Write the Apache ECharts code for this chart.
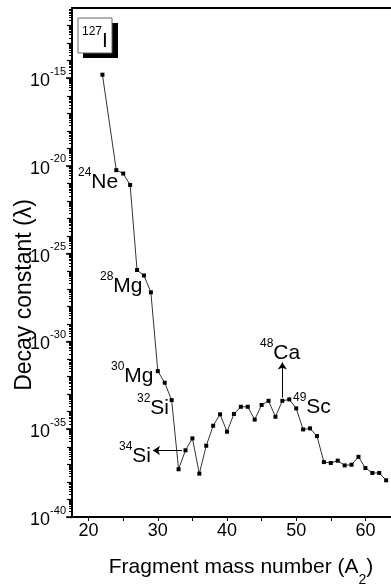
<!DOCTYPE html>
<html>
<head>
<meta charset="utf-8">
<script src="https://cdn.jsdelivr.net/npm/echarts@6/dist/echarts.min.js"></script>
<style>
  html, body { margin: 0; padding: 0; background: #fff; }
  #chart { width: 391px; height: 584px; }
</style>
</head>
<body>
<div id="chart"></div>
<script>
// fragment mass number A2 and log10 of decay constant
var massNumber = [22, 24, 25, 26, 27, 28, 29, 30, 31, 32, 33, 34, 35, 36, 37, 38, 39, 40, 41, 42, 43,
  44, 45, 46, 47, 48, 49, 50, 51, 52, 53, 54, 55, 56, 57, 58, 59, 60, 61, 62, 63];
var log10Lambda = [-14.8, -20.24, -20.43, -21.08, -25.93, -26.24, -27.2, -31.69, -32.35, -33.34, -37.28,
  -36.2, -35.52, -37.53, -35.94, -34.8, -34.15, -35.14, -34.13, -33.72, -33.72,
  -34.45, -33.62, -33.38, -34.29, -33.38, -33.3, -33.81, -35.01, -34.95, -35.39,
  -36.87, -36.92, -36.79, -37.06, -37.02, -36.57, -37.21, -37.49, -37.49, -37.91];

var xTicks = [20, 25, 30, 35, 40, 45, 50, 55, 60, 65];
var xLabels = [20, 30, 40, 50, 60];
var yLabels = [-40, -35, -30, -25, -20, -15];

var FONT = 'Liberation Sans';

var decades = [];
var subTicks = [];
for (var d = -40; d <= -12; d++) {
  decades.push(d);
  for (var k = 2; k <= 9; k++) subTicks.push(d + Math.log10(k));
}

var pts = massNumber.map(function (a, i) { return [a, log10Lambda[i]]; });

var supRich = {
  s: { fontFamily: FONT, fontSize: 12, lineHeight: 12, verticalAlign: 'top', fill: '#000' },
  m: { fontFamily: FONT, fontSize: 21, lineHeight: 26, verticalAlign: 'bottom', fill: '#000' }
};
function isoLabel(mass, sym, x, y) {
  return {
    type: 'text', x: x, y: y, silent: true,
    style: { text: '{s|' + mass + '}{m|' + sym + '}', rich: supRich, fontFamily: FONT, verticalAlign: 'top', align: 'left' }
  };
}

var chart = echarts.init(document.getElementById('chart'), null, { renderer: 'canvas' });
var option = {
  animation: false,
  textStyle: { fontFamily: FONT },
  grid: { left: 72, right: -9, top: 8, bottom: 67, containLabel: false, outerBoundsMode: 'none' },
  xAxis: [
    {
      type: 'value', min: 17.6, max: 65,
      name: '{n|Fragment mass number (A}{b|2}{n|)}',
      nameLocation: 'middle', nameGap: 40,
      nameTextStyle: {
        fontFamily: FONT,
        padding: [0, 0, 0, 10],
        rich: {
          n: { fontFamily: FONT, fontSize: 21, lineHeight: 30, verticalAlign: 'top', color: '#000' },
          b: { fontFamily: FONT, fontSize: 14, lineHeight: 14, verticalAlign: 'bottom', color: '#000' }
        }
      },
      axisLine: { lineStyle: { color: '#000', width: 2 } },
      axisTick: { customValues: xTicks, length: 4, lineStyle: { color: '#000', width: 1 } },
      axisLabel: { customValues: xLabels, margin: 5, fontFamily: FONT, fontSize: 18, color: '#000' },
      splitLine: { show: false }
    },
    {
      type: 'value', position: 'top', min: 17.6, max: 65,
      axisLine: { show: true, lineStyle: { color: '#000', width: 2 } },
      axisTick: { show: false }, axisLabel: { show: false }, splitLine: { show: false }
    }
  ],
  yAxis: [
    {
      type: 'value', min: -40, max: -11,
      axisLine: { show: true, lineStyle: { color: '#000', width: 2 } },
      axisTick: { customValues: yLabels, length: 6, lineStyle: { color: '#000', width: 1.5 } },
      axisLabel: {
        customValues: yLabels, margin: 6, fontFamily: FONT,
        formatter: function (v) { return '{b|10}{s|' + v + '}'; },
        rich: {
          b: { fontFamily: FONT, fontSize: 18, lineHeight: 24, verticalAlign: 'bottom', color: '#000' },
          s: { fontFamily: FONT, fontSize: 11, lineHeight: 11, verticalAlign: 'top', color: '#000' }
        }
      },
      splitLine: { show: false }
    },
    {
      type: 'value', min: -40, max: -11, position: 'left',
      axisLine: { show: false },
      axisTick: { show: true, customValues: decades, length: 5, lineStyle: { color: '#000', width: 1.2 } },
      axisLabel: { show: false }, splitLine: { show: false }
    },
    {
      type: 'value', min: -40, max: -11, position: 'left',
      axisLine: { show: false },
      axisTick: { show: true, customValues: subTicks, length: 3, lineStyle: { color: '#000', width: 1 } },
      axisLabel: { show: false }, splitLine: { show: false }
    }
  ],
  series: [
    {
      type: 'line',
      data: pts,
      symbol: 'rect', symbolSize: 4,
      itemStyle: { color: '#000' },
      lineStyle: { color: '#333', width: 1 },
      markLine: {
        silent: true, animation: false,
        symbol: ['none', 'arrow'], symbolSize: 7,
        label: { show: false },
        lineStyle: { color: '#000', width: 1, type: 'solid' },
        data: [
          [{ coord: [48, -33.2] }, { coord: [48, -31.2] }],
          [{ coord: [33.5, -36.21] }, { coord: [29.3, -36.21] }]
        ]
      }
    }
  ],
  graphic: [
    { type: 'rect', shape: { x: 83, y: 23, width: 35, height: 35 }, style: { fill: '#000' }, silent: true },
    { type: 'rect', shape: { x: 78, y: 18, width: 34, height: 35 }, style: { fill: '#fff', stroke: '#666', lineWidth: 1 }, silent: true },
    isoLabel('127', 'I', 82, 26),
    isoLabel('24', 'Ne', 78, 167),
    isoLabel('28', 'Mg', 100, 271),
    isoLabel('30', 'Mg', 111, 361),
    isoLabel('32', 'Si', 137, 393),
    isoLabel('34', 'Si', 119, 441),
    isoLabel('48', 'Ca', 260, 338),
    isoLabel('49', 'Sc', 293, 392),
    {
      type: 'text', x: 25, y: 295, rotation: Math.PI / 2, silent: true,
      style: { text: 'Decay constant (λ)', fontFamily: FONT, fontSize: 23, fill: '#000', align: 'center', verticalAlign: 'middle' }
    }
  ]
};
chart.setOption(option);
</script>
</body>
</html>
